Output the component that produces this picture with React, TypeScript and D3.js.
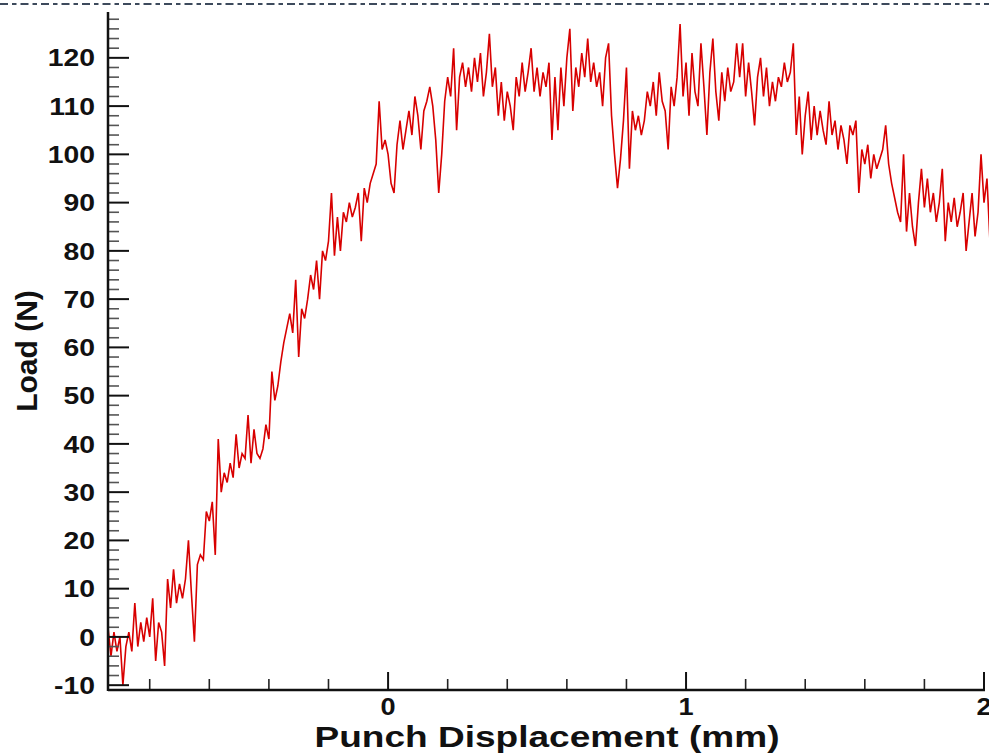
import React from "react";
import * as d3 from "d3";

// Punch displacement sampled uniformly (mm)
const X_START = -0.94;
const X_STEP = 0.01;

// Load readings (N)
const loads: number[] = [
  2, -4, 1, -3, 0, -10, -2, 1, -3, 7,
  -2, 3, -1, 4, 0, 8, -5, 3, 1, -6,
  12, 6, 14, 7, 11, 8, 12, 20, 9, -1,
  15, 17, 16, 26, 24, 28, 17, 41, 30, 34,
  32, 36, 33, 42, 35, 38, 37, 46, 36, 43,
  38, 37, 39, 44, 41, 55, 49, 52, 57, 61,
  64, 67, 63, 74, 58, 68, 66, 70, 75, 72,
  78, 70, 80, 78, 82, 92, 79, 87, 80, 88,
  86, 90, 87, 89, 92, 82, 93, 90, 94, 96,
  98, 111, 101, 103, 100, 94, 92, 102, 107, 101,
  105, 109, 104, 112, 108, 101, 109, 111, 114, 110,
  103, 92, 100, 111, 116, 112, 122, 105, 116, 119,
  114, 118, 113, 120, 115, 121, 112, 117, 125, 114,
  118, 108, 115, 107, 113, 110, 105, 116, 112, 119,
  113, 117, 122, 113, 118, 112, 117, 114, 119, 103,
  116, 105, 118, 110, 120, 126, 109, 118, 114, 121,
  116, 124, 115, 119, 114, 117, 110, 120, 123, 108,
  100, 93, 99, 107, 118, 97, 109, 105, 108, 104,
  107, 113, 110, 115, 108, 117, 111, 109, 101, 114,
  110, 116, 127, 112, 119, 108, 121, 113, 110, 123,
  114, 104, 117, 124, 113, 107, 117, 111, 118, 113,
  115, 123, 116, 123, 112, 119, 113, 106, 116, 120,
  112, 118, 110, 115, 111, 116, 114, 119, 115, 117,
  123, 104, 112, 100, 108, 113, 103, 110, 104, 109,
  105, 102, 111, 104, 107, 101, 106, 103, 98, 106,
  104, 107, 92, 101, 98, 102, 95, 100, 97, 99,
  101, 106, 98, 94, 91, 88, 86, 100, 84, 92,
  85, 81, 90, 97, 89, 95, 88, 92, 86, 90,
  97, 82, 90, 86, 91, 85, 88, 92, 80, 86,
  92, 83, 88, 100, 90, 95, 82,
];

const yMajorTicks = [-10, 0, 10, 20, 30, 40, 50, 60, 70, 80, 90, 100, 110, 120];
const xMajorTicks = [0, 1, 2];
const xTickLabels = ["0", "1", "2"];
const xTitle = "Punch Displacement (mm)";
const yTitle = "Load (N)";

const W = 989;
const H = 754;
const FONT = "'Liberation Sans', Arial, Helvetica, sans-serif";

export default function App() {
  const x = d3.scaleLinear().domain([-0.94, 2.0]).range([108, 984]);
  const y = d3.scaleLinear().domain([-11, 129.5]).range([690, 12]);

  const pts: [number, number][] = loads.map((v, i) => [X_START + i * X_STEP, v]);
  const line = d3
    .line<[number, number]>()
    .x((d) => x(d[0]))
    .y((d) => y(d[1]));

  const yMinor = d3.range(-10, 129.5, 2).filter((v) => Math.abs(v % 10) > 0.001);
  const xMinor = d3
    .range(-0.8, 2.0001, 0.2)
    .filter((v) => Math.abs(v - Math.round(v)) > 0.001);

  const axisX0 = x(-0.94);
  const axisY0 = y(-11);

  return (
    <div style={{ position: "fixed", left: 0, top: 0, width: W, height: H, background: "#fff" }}>
      <svg width={W} height={H} viewBox={`0 0 ${W} ${H}`} style={{ display: "block" }}>
        <rect x={0} y={0} width={W} height={H} fill="#fff" />
        <line x1={0} x2={W} y1={4} y2={4} stroke="#3d4a5c" strokeWidth={2} strokeDasharray="8 4 4.5 4" />

        <clipPath id="plotclip">
          <rect x={axisX0} y={0} width={W - axisX0} height={axisY0} />
        </clipPath>
        <path
          d={line(pts) || ""}
          fill="none"
          stroke="#d80000"
          strokeWidth={1.6}
          strokeLinejoin="miter"
          clipPath="url(#plotclip)"
        />

        {/* y minor ticks */}
        {yMinor.map((v) => (
          <line key={"ym" + v} x1={axisX0} x2={axisX0 + 11} y1={y(v)} y2={y(v)} stroke="#555" strokeWidth={1.6} />
        ))}
        {yMajorTicks.map((v) => (
          <line key={"yM" + v} x1={axisX0} x2={axisX0 + 21} y1={y(v)} y2={y(v)} stroke="#111" strokeWidth={2} />
        ))}
        {yMajorTicks.map((v) => (
          <text
            key={"yl" + v}
            transform={`translate(95, ${y(v)}) scale(1.18, 1)`}
            dy="0.36em"
            textAnchor="end"
            fontFamily={FONT}
            fontWeight="bold"
            fontSize={24}
            fill="#111"
          >
            {v}
          </text>
        ))}

        {/* x minor ticks */}
        {xMinor.map((v) => (
          <line key={"xm" + v} x1={x(v)} x2={x(v)} y1={axisY0} y2={axisY0 - 11} stroke="#222" strokeWidth={1.6} />
        ))}
        {xMajorTicks.map((v) => (
          <line key={"xM" + v} x1={x(v)} x2={x(v)} y1={axisY0} y2={axisY0 - 18} stroke="#111" strokeWidth={2} />
        ))}
        {xMajorTicks.map((v, i) => (
          <text
            key={"xl" + v}
            transform={`translate(${x(v)}, 715) scale(1.18, 1)`}
            textAnchor="middle"
            fontFamily={FONT}
            fontWeight="bold"
            fontSize={23}
            fill="#111"
          >
            {xTickLabels[i]}
          </text>
        ))}

        {/* axis lines */}
        <line x1={axisX0} x2={axisX0} y1={12} y2={axisY0 + 1} stroke="#111" strokeWidth={2.5} />
        <line x1={axisX0} x2={x(2.0) + 1} y1={axisY0} y2={axisY0} stroke="#111" strokeWidth={2.5} />

        <text
          x={547}
          y={747}
          textAnchor="middle"
          fontFamily={FONT}
          fontWeight="bold"
          fontSize={29}
          textLength={465}
          lengthAdjust="spacingAndGlyphs"
          fill="#111"
        >
          {xTitle}
        </text>
        <text
          transform={`translate(37, 351) rotate(-90)`}
          textAnchor="middle"
          fontFamily={FONT}
          fontWeight="bold"
          fontSize={30}
          fill="#111"
        >
          {yTitle}
        </text>
      </svg>
    </div>
  );
}
